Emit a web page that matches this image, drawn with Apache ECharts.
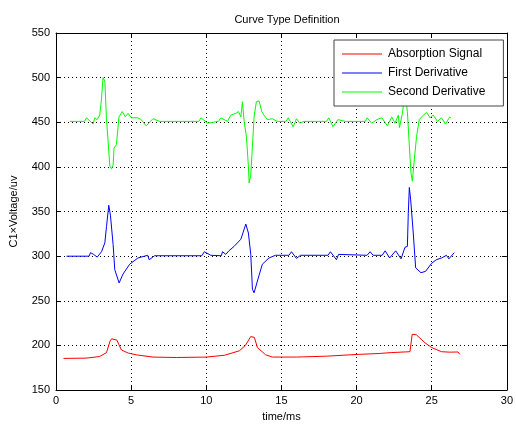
<!DOCTYPE html>
<html>
<head>
<meta charset="utf-8">
<script src="https://cdn.jsdelivr.net/npm/echarts@6/dist/echarts.min.js"></script>
<style>
	html, body { margin: 0; padding: 0; background: #fff; }
	#chart { width: 516px; height: 427px; }
</style>
</head>
<body>
<div id="chart"></div>
<script>
// 曲线数据 (time/ms, value)
var redTime = [0.5, 2.0, 2.9, 3.36, 3.6, 3.7, 4.05, 4.35, 4.8, 5.34,
	6.45, 8, 10, 11.2, 12.2, 12.6, 12.96, 13.2, 13.4, 13.95,
	14.4, 16, 18, 20.1, 21.5, 22.3, 23.55, 23.7, 23.97, 24.55,
	24.99, 25.65, 26.2, 26.75, 26.87];
var redValue = [185.5, 185.8, 187.6, 192, 205, 207.5, 206, 195, 191.5, 189.5,
	187, 186.5, 187, 189, 194, 200, 210, 209, 197.7, 189.5,
	187, 187, 188, 190, 191, 192, 193, 212.5, 212, 203,
	197.7, 193, 192.5, 192.7, 190];

var blueTime = [0.7, 2.2, 2.3, 2.5, 2.74, 3.03, 3.25, 3.36, 3.51, 3.62,
	3.8, 3.91, 4.2, 4.46, 4.9, 5.45, 6.1, 6.2, 6.56, 9.7,
	9.87, 10.3, 11.0, 11.08, 11.3, 11.5, 11.85, 12.3, 12.63, 12.8,
	12.96, 13.07, 13.18, 13.5, 13.73, 14.17, 14.6, 15.5, 15.67, 16.0,
	16.27, 18.1, 18.26, 18.66, 18.8, 20.7, 20.9, 21.1, 21.7, 21.9,
	22.2, 22.6, 22.96, 23.22, 23.38, 23.44, 23.51, 23.6, 23.77, 23.93,
	24.28, 24.59, 24.99, 25.3, 25.65, 25.98, 26.14, 26.5];
var blueValue = [300, 300, 304, 302, 299, 305, 315, 333, 357, 346,
	313, 285, 270, 280, 291, 298, 301, 296, 300.5, 300.5,
	305, 301, 300.5, 305, 302, 306, 311, 319, 336, 326,
	302, 263, 259, 278, 291, 298, 301, 301, 305, 297.5,
	301, 301, 305, 296, 302, 301, 305, 301, 301, 306,
	298, 306, 297, 310, 311, 348, 377, 363, 326, 287,
	281.5, 283, 292, 296, 298, 301, 297, 304];

var greenTime = [0.93, 1.9, 2.03, 2.47, 2.58, 2.74, 2.91, 3.02, 3.13, 3.25,
	3.36, 3.46, 3.58, 3.69, 3.8, 3.86, 4.02, 4.19, 4.41, 4.61,
	4.79, 5.01, 5.45, 5.67, 6.0, 6.45, 6.9, 9.5, 9.65, 9.76,
	10.09, 10.8, 10.97, 11.41, 11.63, 11.97, 12.14, 12.3, 12.4, 12.52,
	12.67, 12.8, 12.85, 12.96, 13.07, 13.18, 13.33, 13.51, 13.69, 13.84,
	14.06, 14.39, 14.72, 15.3, 15.45, 15.78, 16.0, 16.22, 16.49, 18.0,
	18.15, 18.43, 18.76, 19.25, 20.58, 20.7, 21.0, 21.35, 21.68, 22.05,
	22.34, 22.56, 22.78, 22.85, 23.05, 23.13, 23.25, 23.38, 23.49, 23.62,
	23.71, 23.84, 23.99, 24.17, 24.44, 24.66, 24.88, 25.1, 25.38, 25.65,
	25.91, 26.2, 26.27];
var greenValue = [451, 451, 455, 448, 455, 453, 458, 475, 500, 496,
	453, 430, 401, 398, 402, 421, 425, 456, 462, 456,
	460, 455, 455, 453, 446, 454, 451, 451, 455, 455,
	449, 451, 455, 451, 458, 460, 462, 456, 473, 451,
	434, 401, 382, 391, 423, 456, 473, 474, 462, 458,
	453, 454, 451, 451, 455, 445, 454, 449, 451, 451,
	455, 445, 453, 451, 451, 455, 449, 453, 455, 446,
	456, 449, 458, 444, 460, 471, 480, 462, 429, 393,
	384, 408, 434, 453, 458, 461, 455, 458, 451, 455,
	448, 456, 455];

var seriesNames = ['Absorption Signal', 'First Derivative', 'Second Derivative'];
var seriesColors = ['#ff0000', '#0000ff', '#00ff00'];
var xTicks = [0, 5, 10, 15, 20, 25, 30];
var yTicks = [150, 200, 250, 300, 350, 400, 450, 500, 550];

function pairs(t, v) {
	var out = [];
	for (var i = 0; i < Math.min(t.length, v.length); i++) {
		out.push([t[i], v[i]]);
	}
	return out;
}

var font = 'Liberation Sans, Arial, sans-serif';

function boxAxis(pos, isX, show) {
	var ticks = isX ? xTicks : yTicks;
	return {
		type: 'value',
		position: pos,
		min: ticks[0],
		max: ticks[ticks.length - 1],
		interval: ticks[1] - ticks[0],
		axisLine: { show: true, onZero: false, lineStyle: { color: '#000', width: 1 } },
		axisTick: { show: true, inside: true, length: 5, lineStyle: { color: '#000' } },
		axisLabel: {
			show: show,
			color: '#000',
			fontFamily: font,
			fontSize: 11,
			margin: isX ? 5 : 6
		},
		splitLine: {
			show: show,
			lineStyle: { color: '#000', type: [1, 3], width: 1 }
		}
	};
}

function lineSeries(i, t, v) {
	return {
		name: seriesNames[i],
		type: 'line',
		symbol: 'none',
		lineStyle: { color: seriesColors[i], width: 1 },
		itemStyle: { color: seriesColors[i] },
		data: pairs(t, v)
	};
}

var myChart = echarts.init(document.getElementById('chart'), null, { renderer: 'canvas' });

var xMain = boxAxis('bottom', true, true);
xMain.name = 'time/ms';
xMain.nameLocation = 'middle';
xMain.nameGap = 15;
xMain.nameTextStyle = { color: '#000', fontFamily: font, fontSize: 11 };

var yMain = boxAxis('left', false, true);
yMain.name = 'C1×Voltage/uv';
yMain.nameLocation = 'middle';
yMain.nameGap = 37;
yMain.nameTextStyle = { color: '#000', fontFamily: font, fontSize: 11 };

var option = {
	animation: false,
	backgroundColor: '#fff',
	title: {
		text: 'Curve Type Definition',
		left: 282,
		top: 9,
		textAlign: 'center',
		textStyle: { color: '#000', fontFamily: font, fontSize: 11, fontWeight: 'normal' }
	},
	grid: { left: 56, right: 7, top: 33, bottom: 36 },
	legend: {
		orient: 'vertical',
		left: 334,
		top: 40,
		padding: [8, 18, 8, 8],
		icon: 'path://M0,0 L40,0 L40,1 L0,1 Z',
		itemWidth: 42,
		itemHeight: 1,
		itemGap: 7,
		backgroundColor: '#fff',
		borderColor: '#444',
		borderWidth: 1,
		textStyle: { color: '#000', fontFamily: font, fontSize: 12 },
		data: seriesNames
	},
	xAxis: [xMain, boxAxis('top', true, false)],
	yAxis: [yMain, boxAxis('right', false, false)],
	series: [
		lineSeries(0, redTime, redValue),
		lineSeries(1, blueTime, blueValue),
		lineSeries(2, greenTime, greenValue)
	]
};

myChart.setOption(option);
</script>
</body>
</html>
